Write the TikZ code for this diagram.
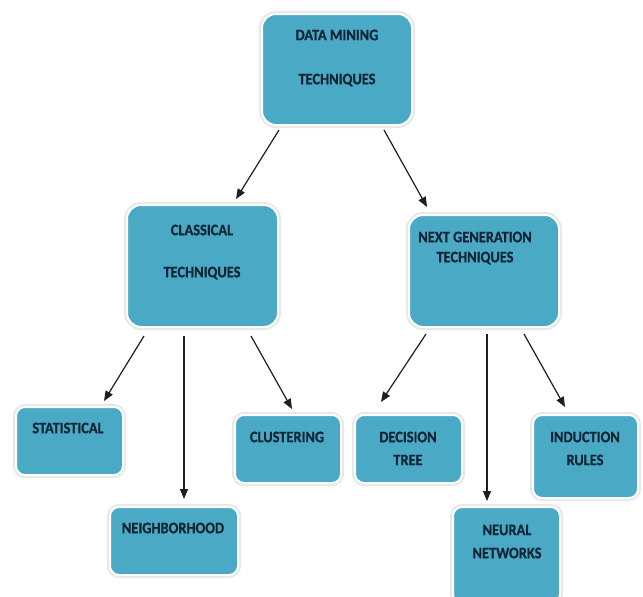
\documentclass[tikz,border=0pt]{standalone}
\usepackage{fontspec}
\setmainfont{Carlito}[BoldFeatures={FakeBold=0.7}]
\usetikzlibrary{arrows.meta,calc}
\definecolor{boxc}{HTML}{4AAAC6}
\definecolor{txtc}{HTML}{0F2536}
\definecolor{arrc}{HTML}{1E1E1E}
\newcommand{\lbl}[1]{\scalebox{0.9}[1]{#1}}
\tikzset{
  box/.style={rectangle, rounded corners=#1, fill=boxc, draw=white, line width=2pt,
    preaction={draw=black!9, line width=6pt}, inner sep=0pt},
  box/.default=12pt,
  lbltext/.style={font=\fontsize{16}{18}\selectfont\bfseries, text=txtc, inner sep=0pt},
  arr/.style={draw=arrc, line width=1.2pt, -{Triangle[length=10pt,width=8pt]}}
}
\begin{document}
\begin{tikzpicture}[x=1pt,y=-1pt]
\useasboundingbox (0,0) rectangle (643,597);
\fill[white] (0,0) rectangle (643,597);
% boxes
\node[box=14pt, minimum width=150pt, minimum height=111pt] (top) at (337,69.5) {};
\node[box=14pt, minimum width=151pt, minimum height=122pt] (cls) at (202.5,266) {};
\node[box=14pt, minimum width=150pt, minimum height=112pt] (nxt) at (484,271) {};
\node[box=9pt, minimum width=107pt, minimum height=68pt] (sta) at (69.5,441) {};
\node[box=9pt, minimum width=106pt, minimum height=68pt] (clu) at (288,449) {};
\node[box=9pt, minimum width=128pt, minimum height=68pt] (nbh) at (174,541) {};
\node[box=9pt, minimum width=107pt, minimum height=68pt] (dec) at (408.5,449) {};
\node[box=9pt, minimum width=105pt, minimum height=83pt] (ind) at (585.5,456.5) {};
\node[box=9pt, minimum width=107pt, minimum height=96pt] (neu) at (506.5,555) {};
% labels
\node[lbltext] (t1) at (337,35) {\lbl{DATA MINING}};
\node[lbltext] (t2) at (337,80) {\lbl{TECHNIQUES}};
\node[lbltext] (c1) at (202,230) {\lbl{CLASSICAL}};
\node[lbltext] (c2) at (202,273) {\lbl{TECHNIQUES}};
\node[lbltext] (n1) at (475,237) {\lbl{NEXT GENERATION}};
\node[lbltext] (n2) at (475,258) {\lbl{TECHNIQUES}};
\node[lbltext] (s1) at (68,428) {\lbl{STATISTICAL}};
\node[lbltext] (k1) at (287,437) {\lbl{CLUSTERING}};
\node[lbltext] (h1) at (173,528) {\lbl{NEIGHBORHOOD}};
\node[lbltext] (d1) at (408,437) {\lbl{DECISION}};
\node[lbltext] (d2) at (408,460) {\lbl{TREE}};
\node[lbltext] (i1) at (585,437) {\lbl{INDUCTION}};
\node[lbltext] (i2) at (585,460) {\lbl{RULES}};
\node[lbltext] (u1) at (507,530) {\lbl{NEURAL}};
\node[lbltext] (u2) at (507,553) {\lbl{NETWORKS}};
% arrows
\draw[arr] ($(top.south west)+(18,4)$) -- ($(cls.north east)+(-43,-5)$);
\draw[arr] ($(top.south east)+(-29,4)$) -- ($(nxt.north west)+(19,-7)$);
\draw[arr] ($(cls.south west)+(18,8)$) -- ($(sta.north east)+(-20,-5)$);
\draw[arr] ($(cls.south west)+(58,8)$) -- ($(nbh.north west)+(75,-7)$);
\draw[arr] ($(cls.south east)+(-28,8)$) -- ($(clu.north west)+(58,-5)$);
\draw[arr] ($(nxt.south west)+(18,6)$) -- ($(dec.north west)+(27,-12)$);
\draw[arr] ($(nxt.south west)+(79,6)$) -- ($(neu.north west)+(35,-5)$);
\draw[arr] ($(nxt.south east)+(-36,6)$) -- ($(ind.north west)+(33,-7)$);
\end{tikzpicture}
\end{document}
